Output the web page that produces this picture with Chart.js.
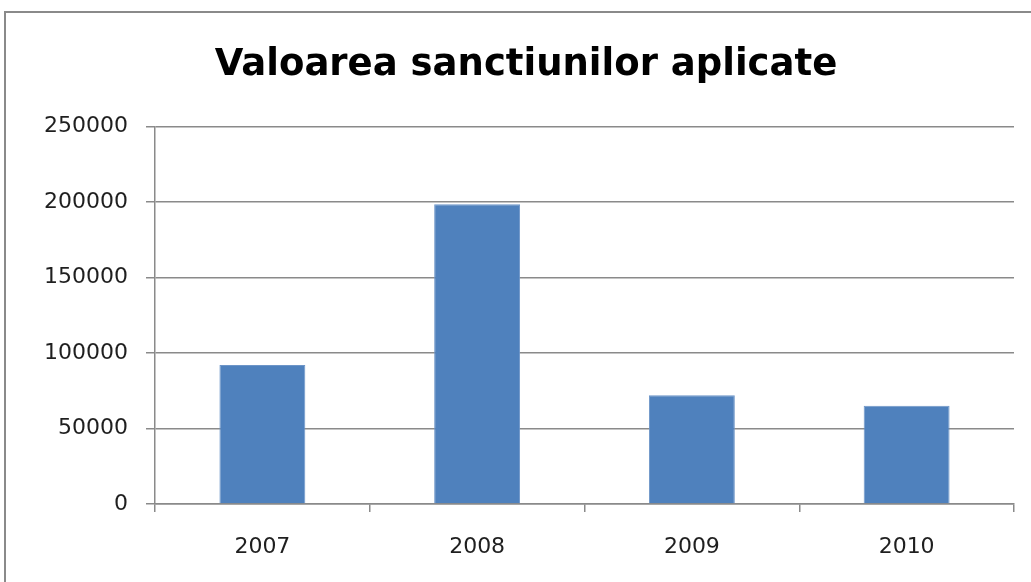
<!DOCTYPE html>
<html>
<head>
<meta charset="utf-8">
<script src="https://cdn.jsdelivr.net/npm/chart.js@4"></script>
<style>
  html, body { margin: 0; padding: 0; background: #ffffff; overflow: hidden; width: 1031px; height: 582px; }
  #wrap { position: absolute; left: 0; top: 0; width: 1052px; height: 600px; }
  #frame { position: absolute; left: 4px; top: 11px; width: 1100px; height: 700px; border: 2px solid #8a8a8a; pointer-events: none; }
</style>
</head>
<body>
<div id="wrap"><canvas id="c" width="1052" height="600"></canvas></div>
<div id="frame"></div>
<script>
const chartTitle = "Valoarea sanctiunilor aplicate";
const categories = ["2007", "2008", "2009", "2010"];
const values = [92000, 198500, 72000, 65000];
const yTicks = [0, 50000, 100000, 150000, 200000, 250000];

const gridColor = "#8a8a8a";
const textColor = "#1f1f1f";

new Chart(document.getElementById("c"), {
  type: "bar",
  data: {
    labels: categories,
    datasets: [{
      data: values,
      backgroundColor: "#4f81bd",
      borderColor: "#6d95c8",
      borderWidth: 1,
      categoryPercentage: 0.4,
      barPercentage: 1.0
    }]
  },
  options: {
    responsive: false,
    animation: false,
    devicePixelRatio: 1,
    layout: { padding: { left: 38, right: 38, top: 0, bottom: 0 } },
    plugins: {
      legend: { display: false },
      tooltip: { enabled: false },
      title: {
        display: true,
        text: chartTitle,
        color: "#000000",
        font: { family: "'DejaVu Sans'", size: 37, weight: "bold" },
        padding: { top: 43, bottom: 39 }
      }
    },
    scales: {
      x: {
        offset: true,
        grid: { display: true, drawOnChartArea: false, drawTicks: true, tickLength: 8, color: gridColor, lineWidth: 1.5, offset: true },
        border: { display: true, color: gridColor, width: 1.5 },
        ticks: { color: textColor, font: { family: "'DejaVu Sans'", size: 22 }, padding: 22, maxRotation: 0 },
        afterFit: (s) => { s.height = 96; }
      },
      y: {
        min: 0,
        max: 250000,
        afterBuildTicks: (s) => { s.ticks = yTicks.map(v => ({ value: v })); },
        grid: { color: gridColor, lineWidth: 1.5, drawTicks: true, tickLength: 9 },
        border: { display: true, color: gridColor, width: 1.5 },
        ticks: { color: textColor, font: { family: "'DejaVu Sans'", size: 22 }, padding: 18, callback: (v) => String(v) },
        afterFit: (s) => { s.width = 117; }
      }
    }
  }
});
</script>
</body>
</html>
